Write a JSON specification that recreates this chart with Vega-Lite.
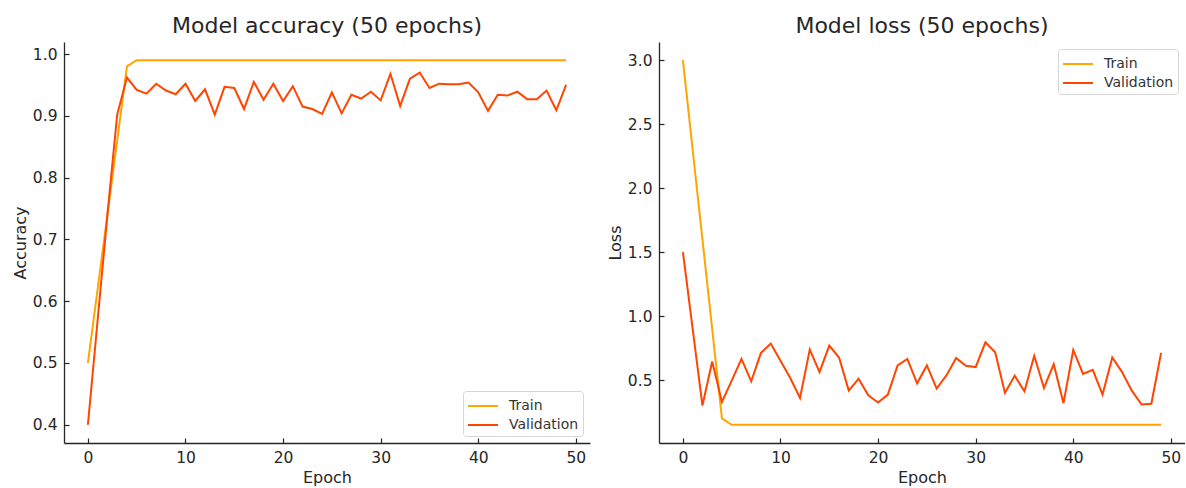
{
  "$schema": "https://vega.github.io/schema/vega-lite/v6.json",
  "padding": {"left": 12, "top": 15, "right": 0, "bottom": 0},
  "bounds": "flush",
  "spacing": 69,
  "background": "white",
  "config": {
    "view": {"stroke": null},
    "font": "DejaVu Sans",
    "axis": {"grid": false, "domainColor": "#262626", "domainWidth": 1.3, "tickColor": "#262626", "tickWidth": 1.2, "tickSize": -5, "labelPadding": 12, "labelFontSize": 15.5, "labelColor": "#262626", "labelFont": "DejaVu Sans", "titleFont": "DejaVu Sans", "titleFontSize": 16, "titleFontWeight": "normal", "titleColor": "#262626"},
    "title": {"fontSize": 22, "fontWeight": "normal", "color": "#262626", "font": "DejaVu Sans", "offset": 4},
    "legend": {"title": null, "symbolType": "M-1,0L2,0", "symbolStrokeWidth": 2, "symbolSize": 400, "labelFontSize": 14, "labelColor": "#333333", "labelFont": "DejaVu Sans", "strokeColor": "#d6d6d6", "fillColor": "rgba(255,255,255,0.8)", "cornerRadius": 3, "padding": 4, "rowPadding": 1, "labelOffset": 20, "offset": 7}
  },
  "datasets": {
    "hist": [
      {"epoch": 0, "series": "Train", "accuracy": 0.5, "loss": 3.0},
      {"epoch": 1, "series": "Train", "accuracy": 0.62, "loss": 2.3},
      {"epoch": 2, "series": "Train", "accuracy": 0.74, "loss": 1.6},
      {"epoch": 3, "series": "Train", "accuracy": 0.86, "loss": 0.9},
      {"epoch": 4, "series": "Train", "accuracy": 0.98, "loss": 0.2},
      {"epoch": 5, "series": "Train", "accuracy": 0.99, "loss": 0.15},
      {"epoch": 6, "series": "Train", "accuracy": 0.99, "loss": 0.15},
      {"epoch": 7, "series": "Train", "accuracy": 0.99, "loss": 0.15},
      {"epoch": 8, "series": "Train", "accuracy": 0.99, "loss": 0.15},
      {"epoch": 9, "series": "Train", "accuracy": 0.99, "loss": 0.15},
      {"epoch": 10, "series": "Train", "accuracy": 0.99, "loss": 0.15},
      {"epoch": 11, "series": "Train", "accuracy": 0.99, "loss": 0.15},
      {"epoch": 12, "series": "Train", "accuracy": 0.99, "loss": 0.15},
      {"epoch": 13, "series": "Train", "accuracy": 0.99, "loss": 0.15},
      {"epoch": 14, "series": "Train", "accuracy": 0.99, "loss": 0.15},
      {"epoch": 15, "series": "Train", "accuracy": 0.99, "loss": 0.15},
      {"epoch": 16, "series": "Train", "accuracy": 0.99, "loss": 0.15},
      {"epoch": 17, "series": "Train", "accuracy": 0.99, "loss": 0.15},
      {"epoch": 18, "series": "Train", "accuracy": 0.99, "loss": 0.15},
      {"epoch": 19, "series": "Train", "accuracy": 0.99, "loss": 0.15},
      {"epoch": 20, "series": "Train", "accuracy": 0.99, "loss": 0.15},
      {"epoch": 21, "series": "Train", "accuracy": 0.99, "loss": 0.15},
      {"epoch": 22, "series": "Train", "accuracy": 0.99, "loss": 0.15},
      {"epoch": 23, "series": "Train", "accuracy": 0.99, "loss": 0.15},
      {"epoch": 24, "series": "Train", "accuracy": 0.99, "loss": 0.15},
      {"epoch": 25, "series": "Train", "accuracy": 0.99, "loss": 0.15},
      {"epoch": 26, "series": "Train", "accuracy": 0.99, "loss": 0.15},
      {"epoch": 27, "series": "Train", "accuracy": 0.99, "loss": 0.15},
      {"epoch": 28, "series": "Train", "accuracy": 0.99, "loss": 0.15},
      {"epoch": 29, "series": "Train", "accuracy": 0.99, "loss": 0.15},
      {"epoch": 30, "series": "Train", "accuracy": 0.99, "loss": 0.15},
      {"epoch": 31, "series": "Train", "accuracy": 0.99, "loss": 0.15},
      {"epoch": 32, "series": "Train", "accuracy": 0.99, "loss": 0.15},
      {"epoch": 33, "series": "Train", "accuracy": 0.99, "loss": 0.15},
      {"epoch": 34, "series": "Train", "accuracy": 0.99, "loss": 0.15},
      {"epoch": 35, "series": "Train", "accuracy": 0.99, "loss": 0.15},
      {"epoch": 36, "series": "Train", "accuracy": 0.99, "loss": 0.15},
      {"epoch": 37, "series": "Train", "accuracy": 0.99, "loss": 0.15},
      {"epoch": 38, "series": "Train", "accuracy": 0.99, "loss": 0.15},
      {"epoch": 39, "series": "Train", "accuracy": 0.99, "loss": 0.15},
      {"epoch": 40, "series": "Train", "accuracy": 0.99, "loss": 0.15},
      {"epoch": 41, "series": "Train", "accuracy": 0.99, "loss": 0.15},
      {"epoch": 42, "series": "Train", "accuracy": 0.99, "loss": 0.15},
      {"epoch": 43, "series": "Train", "accuracy": 0.99, "loss": 0.15},
      {"epoch": 44, "series": "Train", "accuracy": 0.99, "loss": 0.15},
      {"epoch": 45, "series": "Train", "accuracy": 0.99, "loss": 0.15},
      {"epoch": 46, "series": "Train", "accuracy": 0.99, "loss": 0.15},
      {"epoch": 47, "series": "Train", "accuracy": 0.99, "loss": 0.15},
      {"epoch": 48, "series": "Train", "accuracy": 0.99, "loss": 0.15},
      {"epoch": 49, "series": "Train", "accuracy": 0.99, "loss": 0.15},
      {"epoch": 0, "series": "Validation", "accuracy": 0.4, "loss": 1.5},
      {"epoch": 1, "series": "Validation", "accuracy": 0.57, "loss": 0.9},
      {"epoch": 2, "series": "Validation", "accuracy": 0.74, "loss": 0.3},
      {"epoch": 3, "series": "Validation", "accuracy": 0.902, "loss": 0.645},
      {"epoch": 4, "series": "Validation", "accuracy": 0.962, "loss": 0.329},
      {"epoch": 5, "series": "Validation", "accuracy": 0.942, "loss": 0.495},
      {"epoch": 6, "series": "Validation", "accuracy": 0.936, "loss": 0.665},
      {"epoch": 7, "series": "Validation", "accuracy": 0.952, "loss": 0.49},
      {"epoch": 8, "series": "Validation", "accuracy": 0.941, "loss": 0.712},
      {"epoch": 9, "series": "Validation", "accuracy": 0.935, "loss": 0.785},
      {"epoch": 10, "series": "Validation", "accuracy": 0.952, "loss": 0.65},
      {"epoch": 11, "series": "Validation", "accuracy": 0.924, "loss": 0.516},
      {"epoch": 12, "series": "Validation", "accuracy": 0.943, "loss": 0.36},
      {"epoch": 13, "series": "Validation", "accuracy": 0.902, "loss": 0.738},
      {"epoch": 14, "series": "Validation", "accuracy": 0.947, "loss": 0.562},
      {"epoch": 15, "series": "Validation", "accuracy": 0.945, "loss": 0.769},
      {"epoch": 16, "series": "Validation", "accuracy": 0.911, "loss": 0.676},
      {"epoch": 17, "series": "Validation", "accuracy": 0.955, "loss": 0.417},
      {"epoch": 18, "series": "Validation", "accuracy": 0.926, "loss": 0.51},
      {"epoch": 19, "series": "Validation", "accuracy": 0.952, "loss": 0.381},
      {"epoch": 20, "series": "Validation", "accuracy": 0.924, "loss": 0.324},
      {"epoch": 21, "series": "Validation", "accuracy": 0.948, "loss": 0.386},
      {"epoch": 22, "series": "Validation", "accuracy": 0.915, "loss": 0.614},
      {"epoch": 23, "series": "Validation", "accuracy": 0.911, "loss": 0.665},
      {"epoch": 24, "series": "Validation", "accuracy": 0.903, "loss": 0.474},
      {"epoch": 25, "series": "Validation", "accuracy": 0.938, "loss": 0.614},
      {"epoch": 26, "series": "Validation", "accuracy": 0.904, "loss": 0.433},
      {"epoch": 27, "series": "Validation", "accuracy": 0.934, "loss": 0.536},
      {"epoch": 28, "series": "Validation", "accuracy": 0.928, "loss": 0.671},
      {"epoch": 29, "series": "Validation", "accuracy": 0.939, "loss": 0.611},
      {"epoch": 30, "series": "Validation", "accuracy": 0.925, "loss": 0.601},
      {"epoch": 31, "series": "Validation", "accuracy": 0.968, "loss": 0.795},
      {"epoch": 32, "series": "Validation", "accuracy": 0.916, "loss": 0.717},
      {"epoch": 33, "series": "Validation", "accuracy": 0.96, "loss": 0.399},
      {"epoch": 34, "series": "Validation", "accuracy": 0.97, "loss": 0.533},
      {"epoch": 35, "series": "Validation", "accuracy": 0.945, "loss": 0.412},
      {"epoch": 36, "series": "Validation", "accuracy": 0.952, "loss": 0.689},
      {"epoch": 37, "series": "Validation", "accuracy": 0.951, "loss": 0.438},
      {"epoch": 38, "series": "Validation", "accuracy": 0.951, "loss": 0.624},
      {"epoch": 39, "series": "Validation", "accuracy": 0.954, "loss": 0.319},
      {"epoch": 40, "series": "Validation", "accuracy": 0.938, "loss": 0.735},
      {"epoch": 41, "series": "Validation", "accuracy": 0.908, "loss": 0.547},
      {"epoch": 42, "series": "Validation", "accuracy": 0.934, "loss": 0.58},
      {"epoch": 43, "series": "Validation", "accuracy": 0.933, "loss": 0.386},
      {"epoch": 44, "series": "Validation", "accuracy": 0.939, "loss": 0.676},
      {"epoch": 45, "series": "Validation", "accuracy": 0.927, "loss": 0.562},
      {"epoch": 46, "series": "Validation", "accuracy": 0.927, "loss": 0.417},
      {"epoch": 47, "series": "Validation", "accuracy": 0.941, "loss": 0.308},
      {"epoch": 48, "series": "Validation", "accuracy": 0.909, "loss": 0.314},
      {"epoch": 49, "series": "Validation", "accuracy": 0.95, "loss": 0.712}
    ]
  },
  "hconcat": [
    {
      "width": 526,
      "height": 401,
      "title": "Model accuracy (50 epochs)",
      "data": {"name": "hist"},
      "mark": {"type": "line", "strokeWidth": 2},
      "encoding": {
        "x": {"field": "epoch", "type": "quantitative", "scale": {"domain": [-2.45, 51.45], "nice": false, "zero": false}, "axis": {"values": [0, 10, 20, 30, 40, 50], "title": "Epoch"}},
        "y": {"field": "accuracy", "type": "quantitative", "scale": {"domain": [0.3705, 1.0195], "nice": false, "zero": false}, "axis": {"values": [0.4, 0.5, 0.6, 0.7, 0.8, 0.9, 1.0], "format": ".1f", "title": "Accuracy"}},
        "color": {"field": "series", "type": "nominal", "scale": {"domain": ["Train", "Validation"], "range": ["#FFA500", "#FF4500"]}, "legend": {"orient": "bottom-right"}}
      }
    },
    {
      "width": 526,
      "height": 401,
      "title": "Model loss (50 epochs)",
      "data": {"name": "hist"},
      "mark": {"type": "line", "strokeWidth": 2},
      "encoding": {
        "x": {"field": "epoch", "type": "quantitative", "scale": {"domain": [-2.45, 51.45], "nice": false, "zero": false}, "axis": {"values": [0, 10, 20, 30, 40, 50], "title": "Epoch"}},
        "y": {"field": "loss", "type": "quantitative", "scale": {"domain": [0.0075, 3.1425], "nice": false, "zero": false}, "axis": {"values": [0.5, 1.0, 1.5, 2.0, 2.5, 3.0], "format": ".1f", "title": "Loss"}},
        "color": {"field": "series", "type": "nominal", "scale": {"domain": ["Train", "Validation"], "range": ["#FFA500", "#FF4500"]}, "legend": {"orient": "top-right"}}
      }
    }
  ],
  "resolve": {"scale": {"color": "independent"}, "legend": {"color": "independent"}}
}
